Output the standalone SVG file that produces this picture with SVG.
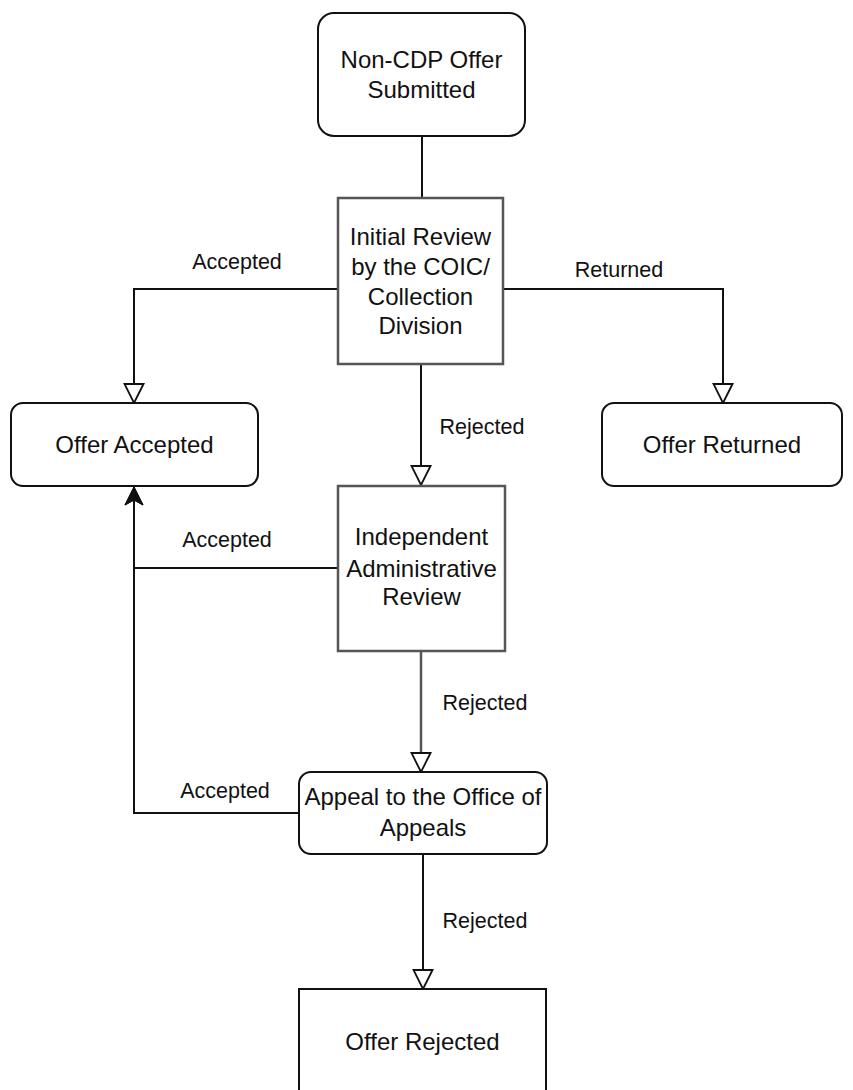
<svg xmlns="http://www.w3.org/2000/svg" width="853" height="1090" viewBox="0 0 853 1090">
<style>
.box{fill:#fff;stroke:#111;stroke-width:2}
.gbox{fill:#fff;stroke:#555;stroke-width:2.5}
.t{font-family:"Liberation Sans",Arial,sans-serif;font-size:24px;fill:#111;text-anchor:middle}
.l{font-family:"Liberation Sans",Arial,sans-serif;font-size:21.5px;fill:#111;text-anchor:middle}
.e{fill:none;stroke:#111;stroke-width:2}
.ge{fill:none;stroke:#555;stroke-width:2.5}
</style>
<defs>
<marker id="open" markerUnits="userSpaceOnUse" markerWidth="24" markerHeight="24" viewBox="-2 -2 24 24" refX="19" refY="9.5" orient="auto">
<polygon points="0,0 19,9.5 0,19" fill="#fff" stroke="#111" stroke-width="1.8"/>
</marker>
<marker id="filled" markerUnits="userSpaceOnUse" markerWidth="24" markerHeight="24" viewBox="-2 -2 24 24" refX="18" refY="9" orient="auto">
<polygon points="0,0 18,9 0,18 5,9" fill="#111" stroke="#111" stroke-width="1"/>
</marker>
</defs>
<rect width="853" height="1090" fill="#fff"/>
<g id="connectors">
<path class="e" d="M422,136 V198"/>
<path class="e" d="M338,289 H134 V403" marker-end="url(#open)"/>
<path class="e" d="M503,289 H723 V403" marker-end="url(#open)"/>
<path class="e" d="M421,364 V485" marker-end="url(#open)"/>
<path class="e" d="M338,568 H134 V487" marker-end="url(#filled)"/>
<path class="e" d="M299,813 H134 V487" marker-end="url(#filled)"/>
<path class="ge" d="M421,651 V772" marker-end="url(#open)"/>
<path class="e" d="M423,854 V989" marker-end="url(#open)"/>
<text class="l" x="237" y="269">Accepted</text>
<text class="l" x="619" y="277">Returned</text>
<text class="l" x="482" y="434">Rejected</text>
<text class="l" x="227" y="547">Accepted</text>
<text class="l" x="485" y="710">Rejected</text>
<text class="l" x="225" y="798">Accepted</text>
<text class="l" x="485" y="928">Rejected</text>
</g>
<g id="n-submitted">
<rect class="box" x="318" y="13" width="207" height="123" rx="16"/>
<text class="t" x="421.5" y="68">Non-CDP Offer</text>
<text class="t" x="421.5" y="98">Submitted</text>
</g>
<g id="n-initial">
<rect class="gbox" x="338" y="198" width="165" height="166"/>
<text class="t" x="420.5" y="245">Initial Review</text>
<text class="t" x="420.5" y="275">by the COIC/</text>
<text class="t" x="420.5" y="305">Collection</text>
<text class="t" x="420.5" y="334">Division</text>
</g>
<g id="n-accepted">
<rect class="box" x="11" y="403" width="247" height="83" rx="12"/>
<text class="t" x="134.5" y="453">Offer Accepted</text>
</g>
<g id="n-returned">
<rect class="box" x="602" y="403" width="240" height="83" rx="12"/>
<text class="t" x="722" y="453">Offer Returned</text>
</g>
<g id="n-independent">
<rect class="gbox" x="338" y="486" width="167" height="165"/>
<text class="t" x="421.5" y="545">Independent</text>
<text class="t" x="421.5" y="577">Administrative</text>
<text class="t" x="421.5" y="605">Review</text>
</g>
<g id="n-appeal">
<rect class="box" x="299" y="772" width="248" height="82" rx="12"/>
<text class="t" x="423" y="805">Appeal to the Office of</text>
<text class="t" x="423" y="836">Appeals</text>
</g>
<g id="n-rejected">
<rect class="box" x="299" y="989" width="247" height="110"/>
<text class="t" x="422.5" y="1050">Offer Rejected</text>
</g>
</svg>
